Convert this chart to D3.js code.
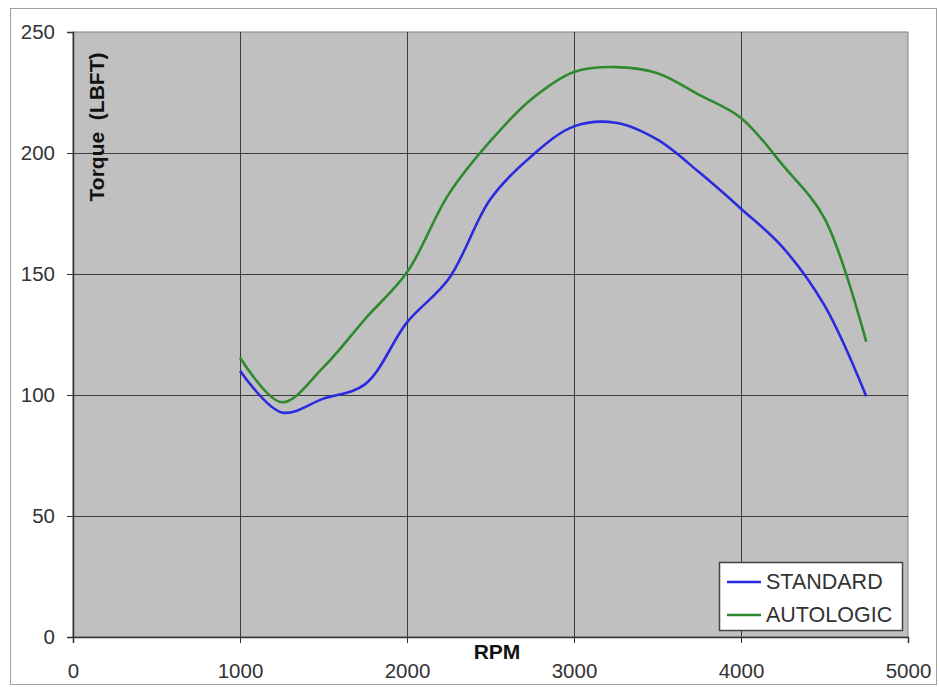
<!DOCTYPE html>
<html>
<head>
<meta charset="utf-8">
<script src="https://cdn.jsdelivr.net/npm/d3@7"></script>
<style>
  body { margin: 0; background: #fff; }
  #chart { width: 939px; height: 687px; }
  text { font-family: "Liberation Sans", Arial, sans-serif; }
</style>
</head>
<body>
<div id="chart"></div>
<script>
// data
var rpm = [1000, 1250, 1500, 1750, 2000, 2250, 2500, 2750, 3000, 3250, 3500, 3750, 4000, 4250, 4500, 4750];
var standard = [110, 92.8, 98.5, 104.5, 130, 148, 181, 199, 211, 212.5, 205.5, 192, 177, 161, 137, 99.5];
var autologic = [115.5, 97, 111.5, 131.5, 150.7, 183, 205, 222.5, 233.5, 235.5, 233, 224, 214.5, 195, 173, 122];
var seriesNames = ["STANDARD", "AUTOLOGIC"];
var seriesColors = ["#2a2ae0", "#2f8a2f"];
var xTicks = [0, 1000, 2000, 3000, 4000, 5000];
var yTicks = [0, 50, 100, 150, 200, 250];

var drawChart = function() {
    var width = 939, height = 687;
    var left = 73, top = 32, right = 908, bottom = 637;

    var svg = d3.select("#chart").append("svg").attr("width", width).attr("height", height);

    // outer chart frame
    svg.append("rect").attr("x", 10.5).attr("y", 8.5).attr("width", 926).attr("height", 676)
       .attr("fill", "#fff").attr("stroke", "#a0a0a0");

    var x = d3.scaleLinear().domain([0, 5000]).range([left, right]);
    var y = d3.scaleLinear().domain([0, 250]).range([bottom, top]);

    svg.append("rect").attr("x", left).attr("y", top).attr("width", right - left).attr("height", bottom - top)
       .attr("fill", "#c0c0c0").attr("stroke", "#808080");

    // grid
    svg.append("g").selectAll("line").data(xTicks.slice(1, -1)).enter().append("line")
       .attr("x1", function(d) { return Math.round(x(d)) + 0.5; })
       .attr("x2", function(d) { return Math.round(x(d)) + 0.5; })
       .attr("y1", top).attr("y2", bottom)
       .attr("stroke", "#3c3c3c").attr("stroke-width", 1);
    svg.append("g").selectAll("line").data(yTicks.slice(1, -1)).enter().append("line")
       .attr("y1", function(d) { return Math.round(y(d)) + 0.5; })
       .attr("y2", function(d) { return Math.round(y(d)) + 0.5; })
       .attr("x1", left).attr("x2", right)
       .attr("stroke", "#3c3c3c").attr("stroke-width", 1);

    var xAxis = svg.append("g").attr("transform", "translate(0," + bottom + ")")
       .call(d3.axisBottom(x).tickValues(xTicks).tickSize(6).tickPadding(20).tickFormat(d3.format("d")));
    var yAxis = svg.append("g").attr("transform", "translate(" + left + ",0)")
       .call(d3.axisLeft(y).tickValues(yTicks).tickSize(6).tickPadding(12).tickFormat(d3.format("d")));

    [xAxis, yAxis].forEach(function(ax) {
        ax.select(".domain").attr("stroke", "#333").attr("stroke-width", 1.5);
        ax.selectAll(".tick line").attr("stroke", "#333");
        ax.selectAll(".tick text").attr("fill", "#333").attr("font-size", "20.5px")
          .attr("font-family", "'Liberation Sans', Arial, sans-serif");
    });

    var line = d3.line().curve(d3.curveCatmullRom.alpha(0.5))
       .x(function(d) { return x(d[0]); })
       .y(function(d) { return y(d[1]); });

    [standard, autologic].forEach(function(vals, i) {
        svg.append("path").datum(rpm.map(function(r, j) { return [r, vals[j]]; }))
           .attr("d", line).attr("fill", "none")
           .attr("stroke", seriesColors[i]).attr("stroke-width", 2.6);
    });

    // axis titles
    svg.append("text").attr("x", 497).attr("y", 659).attr("text-anchor", "middle")
       .attr("font-size", "21px").attr("font-weight", "bold").attr("fill", "#111").text("RPM");
    svg.append("text").attr("transform", "translate(104,127) rotate(-90)").attr("text-anchor", "middle")
       .attr("font-size", "21px").attr("font-weight", "bold").attr("fill", "#111")
       .attr("xml:space", "preserve").style("white-space", "pre").text("Torque  (LBFT)");

    // legend
    var lg = svg.append("g");
    lg.append("rect").attr("x", 719.5).attr("y", 562.5).attr("width", 183).attr("height", 68)
      .attr("fill", "#fff").attr("stroke", "#444").attr("stroke-width", 1.5);
    seriesNames.forEach(function(name, i) {
        var yy = 582 + i * 33;
        lg.append("line").attr("x1", 727).attr("x2", 761).attr("y1", yy).attr("y2", yy)
          .attr("stroke", seriesColors[i]).attr("stroke-width", 2.6);
        lg.append("text").attr("x", 766).attr("y", yy + 7).attr("font-size", "21.5px")
          .attr("fill", "#333").text(name);
    });
};

drawChart();
</script>
</body>
</html>
